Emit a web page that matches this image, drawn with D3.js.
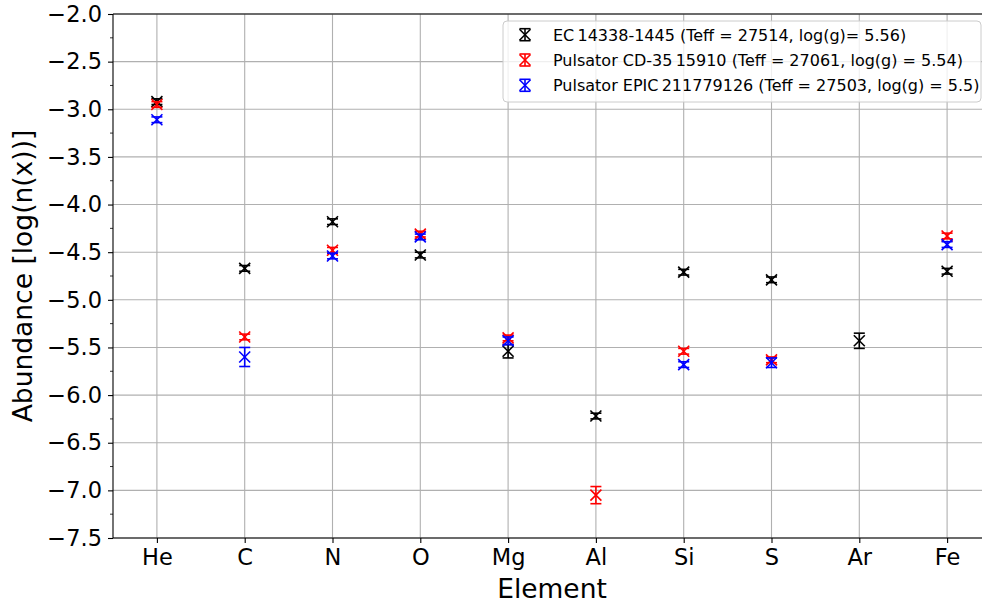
<!DOCTYPE html>
<html>
<head>
<meta charset="utf-8">
<script src="https://cdn.jsdelivr.net/npm/d3@7"></script>
<style>
  html, body { margin: 0; padding: 0; background: #fff; }
  svg { display: block; font-family: "DejaVu Sans", sans-serif; }
</style>
</head>
<body>
<svg id="chart" width="982" height="604"></svg>
<script>
// Elements on the x axis
const elements = ["He", "C", "N", "O", "Mg", "Al", "Si", "S", "Ar", "Fe"];

// Abundances (log n(x)) and their uncertainties, one pair of arrays per star
const ecValues  = [-2.92, -4.67, -4.18, -4.53, -5.54, -6.22, -4.71, -4.79, -5.43, -4.70];
const ecErrors  = [0.03, 0.03, 0.03, 0.03, 0.07, 0.03, 0.03, 0.03, 0.08, 0.03];
const cdValues  = [-2.95, -5.39, -4.48, -4.31, -5.40, -7.05, -5.54, -5.63, null, -4.33];
const cdErrors  = [0.03, 0.03, 0.03, 0.03, 0.03, 0.09, 0.03, 0.03, null, 0.03];
const epValues  = [-3.11, -5.60, -4.54, -4.34, -5.43, null, -5.68, -5.66, null, -4.42];
const epErrors  = [0.03, 0.10, 0.03, 0.03, 0.04, null, 0.03, 0.05, null, 0.03];

const seriesNames = [
  "EC\u200914338-1445 (Teff = 27514, log(g)= 5.56)",
  "Pulsator CD-35\u200915910 (Teff = 27061, log(g) = 5.54)",
  "Pulsator EPIC\u2009211779126 (Teff = 27503, log(g) = 5.5)"
];
const seriesColors = ["#000000", "#ff0000", "#0000ff"];

const yTicks = [-2.0, -2.5, -3.0, -3.5, -4.0, -4.5, -5.0, -5.5, -6.0, -6.5, -7.0, -7.5];

const series = [
  { name: seriesNames[0], color: seriesColors[0], values: ecValues, errors: ecErrors },
  { name: seriesNames[1], color: seriesColors[1], values: cdValues, errors: cdErrors },
  { name: seriesNames[2], color: seriesColors[2], values: epValues, errors: epErrors }
];

const svg = d3.select("#chart");
const margin = { left: 113, top: 14, bottom: 538 };
const plotRight = 991;

const x = d3.scaleLinear().domain([-0.5, elements.length - 0.5]).range([margin.left, plotRight]);
const y = d3.scaleLinear().domain([-7.5, -2.0]).range([margin.bottom, margin.top]);

const fmt = v => d3.format(".1f")(v).replace("-", "\u2212");

// Grid
const grid = svg.append("g");
grid.selectAll("line.gy").data(yTicks).join("line")
  .attr("x1", margin.left).attr("x2", plotRight)
  .attr("y1", d => y(d)).attr("y2", d => y(d))
  .attr("stroke", "#b0b0b0").attr("stroke-width", 1.1);
grid.selectAll("line.gx").data(elements).join("line")
  .attr("x1", (d, i) => x(i)).attr("x2", (d, i) => x(i))
  .attr("y1", margin.top).attr("y2", margin.bottom)
  .attr("stroke", "#b0b0b0").attr("stroke-width", 1.1);

// Axes
const yAxis = d3.axisLeft(y).tickValues(yTicks).tickFormat(fmt).tickSize(5).tickPadding(6);
const gy = svg.append("g").attr("transform", `translate(${margin.left},0)`).call(yAxis);
gy.select(".domain").remove();
gy.selectAll("text").attr("font-size", 22.5).attr("fill", "#000").attr("font-family", "DejaVu Sans");
gy.selectAll("line").attr("stroke-width", 1.1);

const minorTicks = d3.range(0, 11).map(i => -2.25 - 0.5 * i);
svg.append("g").selectAll("line").data(minorTicks).join("line")
  .attr("x1", margin.left - 3).attr("x2", margin.left)
  .attr("y1", d => y(d)).attr("y2", d => y(d))
  .attr("stroke", "#000").attr("stroke-width", 0.8);

const xAxis = d3.axisBottom(x).tickValues(d3.range(elements.length))
  .tickFormat(i => elements[i]).tickSize(5).tickPadding(6);
const gx = svg.append("g").attr("transform", `translate(0,${margin.bottom})`).call(xAxis);
gx.select(".domain").remove();
gx.selectAll("text").attr("font-size", 22.5).attr("fill", "#000").attr("font-family", "DejaVu Sans");
gx.selectAll("line").attr("stroke-width", 1.1);

// Spines
svg.append("line").attr("x1", margin.left).attr("x2", margin.left)
  .attr("y1", margin.top).attr("y2", margin.bottom).attr("stroke", "#000").attr("stroke-width", 1.1);
svg.append("line").attr("x1", margin.left).attr("x2", plotRight)
  .attr("y1", margin.top).attr("y2", margin.top).attr("stroke", "#000").attr("stroke-width", 1.1);
svg.append("line").attr("x1", margin.left).attr("x2", plotRight)
  .attr("y1", margin.bottom).attr("y2", margin.bottom).attr("stroke", "#000").attr("stroke-width", 1.1);

// Axis titles
svg.append("text").attr("x", x(4.5)).attr("y", 598)
  .attr("text-anchor", "middle").attr("font-size", 26.5).text("Element");
svg.append("text")
  .attr("transform", `translate(32,${(margin.top + margin.bottom) / 2}) rotate(-90)`)
  .attr("text-anchor", "middle").attr("font-size", 26.5).text("Abundance [log(n(x))]");

// Error bar glyph: vertical bar, caps and an x marker
const cap = 5.5, mk = 5.5;
function drawErrorbar(g, cx, cy, top, bot, color) {
  g.append("line").attr("x1", cx).attr("x2", cx).attr("y1", top).attr("y2", bot);
  g.append("line").attr("x1", cx - cap).attr("x2", cx + cap).attr("y1", top).attr("y2", top);
  g.append("line").attr("x1", cx - cap).attr("x2", cx + cap).attr("y1", bot).attr("y2", bot);
  g.append("line").attr("x1", cx - mk).attr("x2", cx + mk).attr("y1", cy - mk).attr("y2", cy + mk);
  g.append("line").attr("x1", cx - mk).attr("x2", cx + mk).attr("y1", cy + mk).attr("y2", cy - mk);
  g.attr("stroke", color).attr("stroke-width", 1.6).attr("fill", "none");
}

const plot = svg.append("g");
series.forEach(s => {
  s.values.forEach((v, i) => {
    if (v === null) return;
    const e = s.errors[i];
    drawErrorbar(plot.append("g"), x(i), y(v), y(v + e), y(v - e), s.color);
  });
});

// Legend
const legend = svg.append("g").attr("transform", "translate(503,21)");
legend.append("rect").attr("x", 0).attr("y", 0).attr("width", 478).attr("height", 81)
  .attr("rx", 4).attr("fill", "#fff").attr("fill-opacity", 0.8)
  .attr("stroke", "#cccccc").attr("stroke-width", 1);
series.forEach((s, k) => {
  const cy = 13.7 + k * 25.3;
  drawErrorbar(legend.append("g"), 22, cy, cy - 6, cy + 6, s.color);
  legend.append("text").attr("x", 50).attr("y", cy + 5.8)
    .attr("font-size", 16).attr("fill", "#000").text(s.name);
});
</script>
</body>
</html>
